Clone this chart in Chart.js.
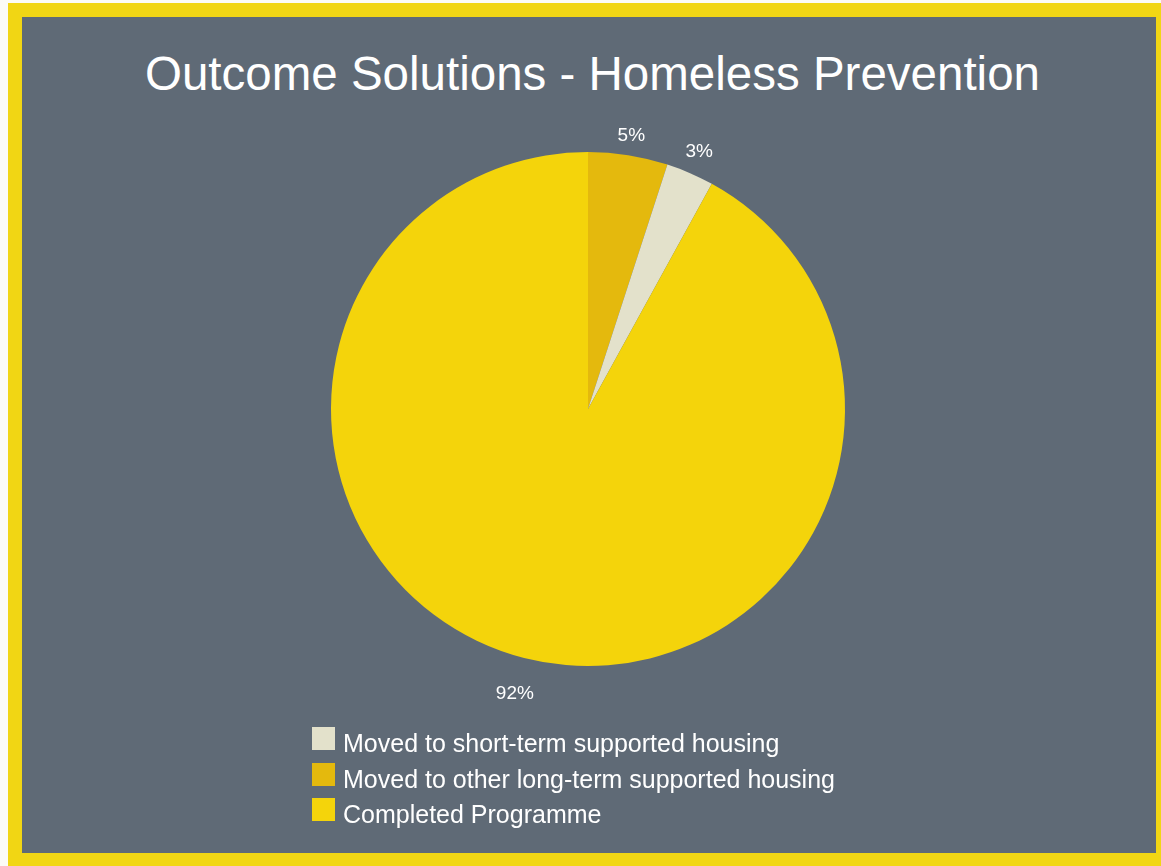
<!DOCTYPE html>
<html>
<head>
    <title>Outcome Solutions - Homeless Prevention</title>
    <script src="https://cdn.jsdelivr.net/npm/chart.js"></script>
    <style>
        body {
            margin: 0;
            width: 1161px;
            height: 866px;
            background: #fbfbf6;
            position: relative;
            overflow: hidden;
            font-family: "Liberation Sans", Arial, sans-serif;
        }
        #frame {
            position: absolute;
            left: 8px; top: 3px; right: 0; bottom: 0;
            background: #f1d614;
        }
        #panel {
            position: absolute;
            left: 22px; top: 17px;
            width: 1134px; height: 836px;
            background: #5f6a76;
        }
        #title {
            position: absolute;
            left: 0; width: 1185px; top: 46px;
            text-align: center;
            color: #ffffff;
            font-size: 47.5px;
            line-height: 56px;
        }
        #chart {
            position: absolute;
            left: 0; top: 0;
        }
        #legend {
            position: absolute;
            left: 312px; top: 727px;
            margin: 0; padding: 0;
            list-style: none;
            color: #ffffff;
            font-size: 25px;
        }
        #legend li {
            height: 35.5px;
            display: flex;
            align-items: flex-start;
        }
        #legend span.box {
            display: inline-block;
            width: 23px; height: 23px;
            margin-right: 8px;
        }
        #legend span.txt {
            line-height: 25px;
            margin-top: 4px;
        }
    </style>
</head>
<body>
    <div id="frame"></div>
    <div id="panel"></div>
    <div id="title">Outcome Solutions - Homeless Prevention</div>
    <canvas id="chart" width="1161" height="866"></canvas>
    <ul id="legend"></ul>
    <script>
        // legend order
        const categories = [
            'Moved to short-term supported housing',
            'Moved to other long-term supported housing',
            'Completed Programme'
        ];
        const percentages = [3, 5, 92];
        const sliceColors = ['#e3e1cb', '#e4b90d', '#f4d40b'];
        // clockwise from 12 o'clock
        const sliceOrder = [1, 0, 2];

        // percentage labels just outside the rim
        const outsideLabels = {
            id: 'outsideLabels',
            afterDatasetsDraw(chart) {
                const ctx = chart.ctx;
                const meta = chart.getDatasetMeta(0);
                const values = chart.data.datasets[0].data;
                ctx.save();
                ctx.font = '19px "Liberation Sans", Arial, sans-serif';
                ctx.fillStyle = '#ffffff';
                ctx.textAlign = 'center';
                ctx.textBaseline = 'middle';
                meta.data.forEach((arc, i) => {
                    const p = arc.getProps(['x', 'y', 'startAngle', 'endAngle', 'outerRadius'], true);
                    const mid = (p.startAngle + p.endAngle) / 2;
                    const text = values[i] + '%';
                    const w = ctx.measureText(text).width;
                    const h = 14;
                    const c = Math.cos(mid), s = Math.sin(mid);
                    // labels below the centre sit a little further out
                    const gap = 11 + (s > 0 ? 15 * s : 0);
                    const dist = p.outerRadius + gap + Math.abs(c) * w / 2 + Math.abs(s) * h / 2;
                    ctx.fillText(text, p.x + c * dist, p.y + s * dist);
                });
                ctx.restore();
            }
        };

        const chart = new Chart(document.getElementById('chart'), {
            type: 'pie',
            data: {
                labels: sliceOrder.map(i => categories[i]),
                datasets: [{
                    data: sliceOrder.map(i => percentages[i]),
                    backgroundColor: sliceOrder.map(i => sliceColors[i]),
                    borderWidth: 0
                }]
            },
            options: {
                responsive: false,
                animation: false,
                layout: {
                    padding: { left: 331, right: 316, top: 152, bottom: 200 }
                },
                plugins: {
                    legend: { display: false },
                    title: { display: false },
                    tooltip: { enabled: false }
                }
            },
            plugins: [outsideLabels]
        });

        const legend = document.getElementById('legend');
        categories.forEach((name, i) => {
            const li = document.createElement('li');
            li.innerHTML = '<span class="box" style="background:' + sliceColors[i] + '"></span>' +
                '<span class="txt">' + name + '</span>';
            legend.appendChild(li);
        });
    </script>
</body>
</html>
